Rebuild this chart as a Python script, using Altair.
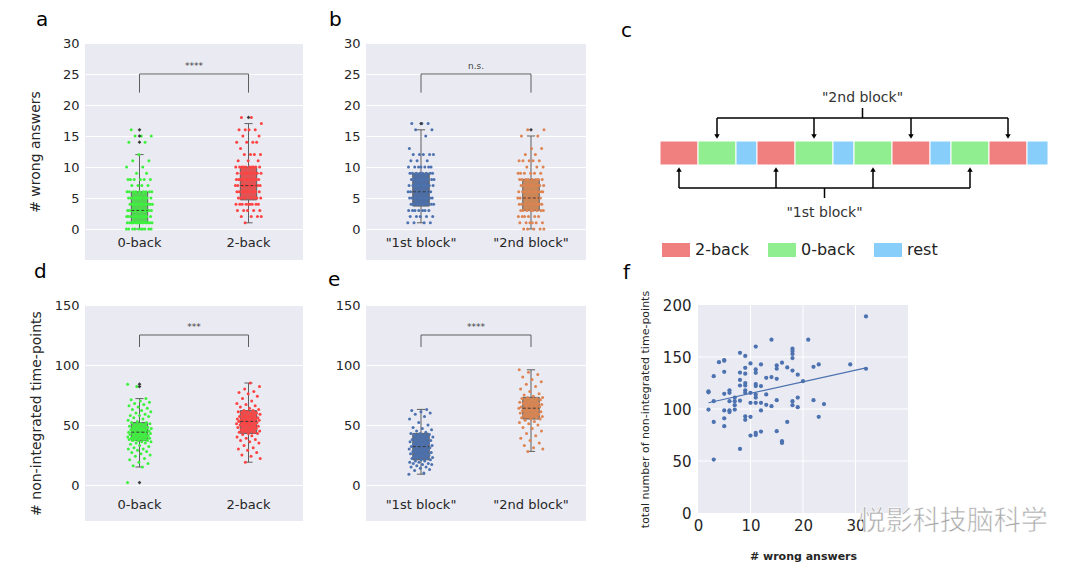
import altair as alt
import pandas as pd

FONT = "DejaVu Sans"
BG = "#EAEAF2"
GRAY = "#5f5f5f"

# ---------------- panel a : # wrong answers by task ----------------
a_cats = ["0-back", "2-back"]
a0_vals = [0, 1, 2, 3, 4, 5, 6, 7, 8, 9, 10, 11, 12, 14, 15, 16]
a0_cnts = [10, 16, 10, 13, 10, 9, 9, 4, 6, 2, 2, 2, 1, 2, 3, 1]
a2_vals = [1, 2, 3, 4, 5, 6, 7, 8, 9, 10, 11, 12, 13, 14, 15, 16, 17, 18]
a2_cnts = [1, 4, 5, 9, 7, 9, 10, 9, 8, 10, 3, 4, 1, 4, 2, 4, 1, 2]
a_q1 = [1, 4.7]
a_med = [3, 7]
a_q3 = [6, 10]
a_lo = [0, 1]
a_hi = [12, 17]
a_out = [[14, 15, 16], [18]]

# ---------------- panel b : # wrong answers by block ----------------
b_cats = ['"1st block"', '"2nd block"']
b1_vals = [1, 2, 3, 4, 5, 6, 7, 8, 9, 10, 11, 12, 13, 15, 16, 17]
b1_cnts = [4, 5, 7, 8, 8, 9, 9, 8, 8, 7, 3, 5, 1, 1, 2, 3]
b2_vals = [0, 1, 2, 3, 4, 5, 6, 7, 8, 9, 10, 11, 12, 13, 15, 16]
b2_cnts = [5, 6, 6, 8, 9, 9, 9, 9, 8, 6, 3, 5, 2, 2, 2, 2]
b_q1 = [3.7, 3]
b_med = [6, 5]
b_q3 = [9, 8]
b_lo = [1, 0]
b_hi = [16, 15]
b_out = [[17], [16]]

# ---------------- panel d : non-integrated time-points by task ----------------
d0_vals = [2, 15, 16, 18, 19, 21, 22, 24, 25, 26, 27, 28, 29, 30, 30, 31, 32, 33, 34, 35,
           35, 36, 36, 37, 37, 37, 38, 38, 38, 39, 39, 39, 40, 40, 40, 41, 41, 41, 42, 42,
           42, 43, 43, 43, 44, 44, 44, 44, 45, 45, 45, 46, 46, 46, 47, 47, 47, 48, 48, 49,
           49, 50, 50, 51, 51, 52, 52, 53, 54, 55, 56, 57, 58, 58, 59, 60, 61, 62, 63, 64,
           65, 66, 67, 68, 69, 70, 71, 72, 82, 84]
d2_vals = [19, 22, 24, 25, 27, 29, 30, 31, 33, 35, 36, 37, 38, 39, 40, 41, 42, 43, 43, 44,
           44, 45, 45, 46, 46, 47, 47, 48, 48, 49, 49, 50, 50, 50, 51, 51, 51, 52, 52, 52,
           53, 53, 53, 54, 54, 54, 55, 55, 55, 56, 56, 56, 57, 57, 58, 58, 59, 59, 60, 60,
           61, 61, 62, 62, 63, 64, 65, 66, 67, 68, 70, 72, 74, 76, 77, 78, 80, 82, 85]
d_q1 = [37, 43]
d_med = [44, 53]
d_q3 = [52, 62]
d_lo = [15, 19]
d_hi = [72, 85]
d_out = [[2, 82, 84], []]

# ---------------- panel e : non-integrated time-points by block ----------------
e1_vals = [9, 10, 12, 13, 14, 15, 15, 16, 17, 17, 18, 18, 19, 19, 20, 20, 21, 21, 22, 22,
           23, 23, 24, 24, 25, 25, 26, 26, 27, 27, 28, 28, 29, 29, 30, 30, 31, 31, 32, 32,
           32, 33, 33, 34, 34, 35, 35, 36, 36, 37, 37, 38, 38, 39, 40, 40, 41, 42, 42, 43,
           43, 44, 45, 46, 47, 48, 50, 52, 55, 57, 59, 60, 61, 62, 63]
e2_vals = [28, 30, 31, 33, 35, 37, 39, 41, 43, 45, 47, 48, 50, 51, 52, 53, 54, 55, 55, 56,
           56, 57, 57, 58, 58, 59, 59, 60, 60, 61, 61, 62, 62, 63, 63, 64, 64, 64, 65, 65,
           65, 66, 66, 67, 67, 68, 68, 69, 69, 70, 70, 71, 71, 72, 72, 73, 73, 74, 75, 76,
           78, 80, 82, 84, 86, 88, 90, 92, 94, 96]
e_q1 = [21, 55]
e_med = [32, 64]
e_q3 = [43, 73]
e_lo = [9, 28]
e_hi = [63, 96]
e_out = [[], []]

# ---------------- panel f : scatter ----------------
f_x = [2, 2, 2, 3, 3, 3, 3, 4, 5, 5, 5, 5, 5, 5, 5, 6, 6, 6, 6, 6, 7, 7, 7, 7,
       8, 8, 8, 8, 8, 8, 9, 9, 9, 9, 9, 9, 9, 9, 9, 10, 10, 10, 10, 10,
       11, 11, 11, 11, 11, 11, 11, 11, 11, 11, 12, 12, 12, 12, 12, 13, 13, 13,
       14, 14, 14, 15, 15, 15, 15, 15, 16, 16, 16, 17, 17, 18, 18, 18, 18, 18, 18, 18,
       19, 19, 19, 20, 21, 22, 22, 23, 23, 24, 29, 32, 32]
f_y = [117, 116, 99.5, 131.6, 107.5, 87.6, 51.4, 145, 147, 146.5, 135.8, 114.6, 98.6, 91, 83.5,
       118, 115.6, 107.5, 98.6, 97, 111, 107.5, 103.7, 99.5,
       154, 135, 128, 122.6, 108, 61.6, 151, 139.6, 134, 125, 122.6, 118, 115.6, 93, 89.6,
       143.8, 115.6, 106, 92.5, 74.5,
       160, 138, 134.8, 124, 122, 114, 111, 106, 77, 75, 142.8, 122, 106, 98.6, 78.3,
       130, 114, 104, 166.6, 130.7, 102.7, 141.9, 138.7, 129, 108.5, 78.7,
       144.5, 69, 67.4, 140, 87.6, 158, 155.7, 153, 149, 137, 107.5, 103.7,
       133, 111, 101.8, 126.8, 166.6, 140.6, 108.5, 142.8, 92.5, 104.7, 142.8, 189, 138.7]
fit_x = [2, 32]
fit_y = [106, 139.6]
f_xticks = [0, 10, 20, 30]
f_yticks = [0, 50, 100, 150, 200]

# ---------------- panel c : block design ----------------
c_cond = ["2-back", "0-back", "rest"]
c_dur = [38, 38, 21]
c_colors = ["#F08080", "#90EE90", "#87CEFA"]
c_seq = ["2-back", "0-back", "rest", "2-back", "0-back", "rest",
         "0-back", "2-back", "rest", "0-back", "2-back", "rest"]


def expand(vals, cnts):
    out = []
    for v, c in zip(vals, cnts):
        out += [v] * c
    return out


def golden(i, g):
    return ((i * 0.6180339887 + g * 0.37) % 1.0) - 0.5


def ptitle(txt, dx, off):
    return alt.TitleParams(txt, anchor="start", frame="group", dx=dx, offset=off, fontSize=20,
                           fontWeight="normal", color="black", font=FONT)


def strip_panel(title, tdx, toff, cats, groups, pt_cols, box_cols, q1, med, q3, lo, hi, outs,
                ydom, yvals, ytitle, tpad, sig_text, sig_lo, sig_hi, lab_y, width, height,
                jit, boxw):
    xs = alt.Scale(domain=[-0.5, 1.5], nice=False, zero=False)
    ys = alt.Scale(domain=ydom, nice=False, zero=False)
    yax = alt.Axis(values=yvals, labelFontSize=13, titleFontSize=14, titleFontWeight="normal",
                   grid=True, gridColor="white", gridWidth=1, ticks=False, domain=False,
                   labelPadding=6, titlePadding=tpad, labelColor="#262626",
                   titleColor="#262626")

    def X(f):
        return alt.X(f, type="quantitative", scale=xs, axis=None)

    def Y(f):
        return alt.Y(f, type="quantitative", scale=ys, axis=yax, title=ytitle)

    pts = []
    for g, vals in enumerate(groups):
        for i, v in enumerate(vals):
            pts.append({"x": g + 2 * jit * golden(i, g), "v": v, "col": pt_cols[g]})
    pts_df = pd.DataFrame(pts)
    box_df = pd.DataFrame({
        "g": [0, 1], "x1": [-boxw, 1 - boxw], "x2": [boxw, 1 + boxw],
        "cx1": [-boxw / 2, 1 - boxw / 2], "cx2": [boxw / 2, 1 + boxw / 2],
        "q1": q1, "med": med, "q3": q3, "lo": lo, "hi": hi, "bcol": box_cols})
    out_df = pd.DataFrame([{"g": g, "v": v} for g, vs in enumerate(outs) for v in vs]
                          or [{"g": 0, "v": None}])
    sig_df = pd.DataFrame({"x": [0, 0, 1, 1], "y": [sig_lo, sig_hi, sig_hi, sig_lo],
                           "o": [0, 1, 2, 3]})
    sigt_df = pd.DataFrame({"x": [0.5], "y": [sig_hi], "t": [sig_text]})
    lab_df = pd.DataFrame({"g": [0, 1], "y": [lab_y, lab_y], "cat": cats})

    box = alt.Chart(box_df).mark_rect(stroke=GRAY, strokeWidth=1).encode(
        x=X("x1"), x2="x2", y=Y("q1"), y2="q3", fill=alt.Fill("bcol:N", scale=None))
    wl = alt.Chart(box_df).mark_rule(color=GRAY).encode(x=X("g"), y=Y("lo"), y2="q1")
    wh = alt.Chart(box_df).mark_rule(color=GRAY).encode(x=X("g"), y=Y("q3"), y2="hi")
    cl = alt.Chart(box_df).mark_rule(color=GRAY).encode(x=X("cx1"), x2="cx2", y=Y("lo"))
    ch = alt.Chart(box_df).mark_rule(color=GRAY).encode(x=X("cx1"), x2="cx2", y=Y("hi"))
    pt = alt.Chart(pts_df).mark_circle(size=9, opacity=1).encode(
        x=X("x"), y=Y("v"), color=alt.Color("col:N", scale=None))
    md = alt.Chart(box_df).mark_rule(color="#3a3a3a", strokeDash=[3, 2]).encode(
        x=X("x1"), x2="x2", y=Y("med"))
    ou = alt.Chart(out_df).mark_point(shape="diamond", filled=True, size=14,
                                      color="#3c3c3c", opacity=1).encode(x=X("g"), y=Y("v"))
    sg = alt.Chart(sig_df).mark_line(color=GRAY, strokeWidth=1).encode(
        x=X("x"), y=Y("y"), order="o:Q")
    st = alt.Chart(sigt_df).mark_text(fontSize=9, color="#444444", baseline="bottom",
                                      dy=-3).encode(x=X("x"), y=Y("y"), text="t:N")
    lb = alt.Chart(lab_df).mark_text(fontSize=13, color="#262626").encode(
        x=X("g"), y=Y("y"), text="cat:N")
    return alt.layer(box, wl, wh, cl, ch, pt, md, ou, sg, st, lb).properties(
        width=width, height=height, title=ptitle(title, tdx, toff),
        view=alt.ViewBackground(fill=BG, stroke=None))


panel_a = strip_panel("a", -49, 7, a_cats, [expand(a0_vals, a0_cnts), expand(a2_vals, a2_cnts)],
                      ["#3df23d", "#ff4343"], ["#52d652", "#e25454"],
                      a_q1, a_med, a_q3, a_lo, a_hi, a_out,
                      [-5, 30], [0, 5, 10, 15, 20, 25, 30], "# wrong answers", 20,
                      "****", 22, 25, -2.3, 218, 217, 0.12, 0.075)
panel_b = strip_panel("b", -37, 7, b_cats, [expand(b1_vals, b1_cnts), expand(b2_vals, b2_cnts)],
                      ["#4c72b0", "#dd8452"], ["#4f6ea3", "#cc8758"],
                      b_q1, b_med, b_q3, b_lo, b_hi, b_out,
                      [-5, 30], [0, 5, 10, 15, 20, 25, 30], "", 10,
                      "n.s.", 22, 25, -2.3, 220, 217, 0.12, 0.075)
panel_d = strip_panel("d", -51, 17, a_cats, [d0_vals, d2_vals],
                      ["#3df23d", "#ff4343"], ["#52d652", "#e25454"],
                      d_q1, d_med, d_q3, d_lo, d_hi, d_out,
                      [-30, 150], [0, 50, 100, 150], "# non-integrated time-points", 11,
                      "***", 115, 125, -17, 218, 216, 0.11, 0.075)
panel_e = strip_panel("e", -38, 9, b_cats, [e1_vals, e2_vals],
                      ["#4c72b0", "#dd8452"], ["#4f6ea3", "#cc8758"],
                      e_q1, e_med, e_q3, e_lo, e_hi, e_out,
                      [-30, 150], [0, 50, 100, 150], "", 10,
                      "****", 115, 125, -17, 220, 216, 0.11, 0.075)

# ---------------- panel c construction ----------------
dur_of = dict(zip(c_cond, c_dur))
starts, t = [], 0
for cond in c_seq:
    starts.append(t)
    t += dur_of[cond]
total = t
blocks_df = pd.DataFrame({"start": starts,
                          "end": [s + dur_of[c] for s, c in zip(starts, c_seq)],
                          "cond": c_seq})
centers = [s + dur_of[c] / 2 for s, c in zip(starts, c_seq)]
first_c = [centers[3 * k] for k in range(len(c_seq) // 3)]
second_c = [centers[3 * k + 1] for k in range(len(c_seq) // 3)]
mid1 = (first_c[0] + first_c[-1]) / 2
mid2 = (second_c[0] + second_c[-1]) / 2

LV = dict(t2=55, s2=65, b2=75, tip2=97, top=98, bot=122, tip1=123, b1=145, s1=155, t1=170)
segs = [(second_c[0], second_c[-1], LV["b2"], LV["b2"]), (mid2, mid2, LV["s2"], LV["b2"]),
        (first_c[0], first_c[-1], LV["b1"], LV["b1"]), (mid1, mid1, LV["b1"], LV["s1"])]
segs += [(c, c, LV["b2"], LV["tip2"] - 5) for c in second_c]
segs += [(c, c, LV["tip1"] + 5, LV["b1"]) for c in first_c]
seg_df = pd.DataFrame(segs, columns=["x", "x2", "y", "y2"])
head_df = pd.DataFrame([{"x": c, "y": LV["tip2"] - 3.5, "s": "triangle-down"} for c in second_c]
                       + [{"x": c, "y": LV["tip1"] + 3.5, "s": "triangle-up"} for c in first_c])
ctext_df = pd.DataFrame({"x": [mid2, mid1], "y": [LV["t2"], LV["t1"]],
                         "t": ['"2nd block"', '"1st block"']})

C_LEFT = 11  # white margin before the first block inside panel c
cxs = alt.Scale(domain=[-C_LEFT, total + 3], nice=False, zero=False)
cys = alt.Scale(domain=[0, 217], reverse=True, nice=False, zero=False)


def CX(f):
    return alt.X(f, type="quantitative", scale=cxs, axis=None)


def CY(f):
    return alt.Y(f, type="quantitative", scale=cys, axis=None)


c_rect = alt.Chart(blocks_df).mark_rect(stroke="white", strokeWidth=1).encode(
    x=CX("start"), x2="end", y=alt.datum(LV["top"], scale=cys, axis=None),
    y2=alt.datum(LV["bot"]),
    color=alt.Color("cond:N", scale=alt.Scale(domain=c_cond, range=c_colors),
                    legend=alt.Legend(orient="none", legendX=13, legendY=193, title=None,
                                      direction="horizontal", columns=3,
                                      symbolType="M-1,-0.5H1V0.5H-1Z", symbolSize=784,
                                      symbolStrokeWidth=0, symbolOpacity=1,
                                      labelFontSize=16, labelFont=FONT, labelColor="#222222",
                                      labelOffset=5, columnPadding=19)))
c_seg = alt.Chart(seg_df).mark_rule(color="black", strokeWidth=1.5).encode(
    x=CX("x"), x2="x2", y=CY("y"), y2="y2")
c_head = alt.Chart(head_df).mark_point(filled=True, color="black", size=30, opacity=1).encode(
    x=CX("x"), y=CY("y"), shape=alt.Shape("s:N", scale=None))
c_text = alt.Chart(ctext_df).mark_text(fontSize=14, color="#333333").encode(
    x=CX("x"), y=CY("y"), text="t:N")
panel_c = alt.layer(c_rect, c_seg, c_head, c_text).properties(
    width=total + 3 + C_LEFT, height=217, title=ptitle("c", -28, 2))

# ---------------- panel f construction ----------------
F_PAD = 9.33  # x units of white space left of the f plot area
fxs = alt.Scale(domain=[-F_PAD, 40], nice=False, zero=False)
fys = alt.Scale(domain=[0, 200], nice=False, zero=False)
fxa = alt.Axis(values=f_xticks, labelFontSize=15, titleFontSize=11, grid=False,
               ticks=False, domain=False, labelPadding=5, titlePadding=17, titleX=154,
               labelColor="#262626", titleColor="#262626", titleFontWeight="bold")
fya = alt.Axis(values=f_yticks, labelFontSize=15, titleFontSize=11, grid=False, offset=-49,
               ticks=False, domain=False, labelPadding=7, titlePadding=12,
               labelColor="#262626", titleColor="#262626", titleFontWeight="normal")


def FX(f):
    return alt.X(f, type="quantitative", scale=fxs, axis=fxa, title="# wrong answers")


def FY(f):
    return alt.Y(f, type="quantitative", scale=fys, axis=fya,
                 title="total number of non-integrated time-points")


f_df = pd.DataFrame({"x": f_x, "y": f_y})
fit_df = pd.DataFrame({"x": fit_x, "y": fit_y})
bg_df = pd.DataFrame({"x": [0], "x2": [40], "y": [0], "y2": [200]})
gx_df = pd.DataFrame({"v": f_xticks[1:]})
gy_df = pd.DataFrame({"v": f_yticks[1:-1]})
wm_df = pd.DataFrame({"x": [30.6], "y": [-9], "t": ["悦影科技脑科学"]})

f_bg = alt.Chart(bg_df).mark_rect(color=BG).encode(x=FX("x"), x2="x2", y=FY("y"), y2="y2")
f_gx = alt.Chart(gx_df).mark_rule(color="white", strokeWidth=1).encode(
    x=FX("v"), y=alt.datum(0), y2=alt.datum(200))
f_gy = alt.Chart(gy_df).mark_rule(color="white", strokeWidth=1).encode(
    y=FY("v"), x=alt.datum(0), x2=alt.datum(40))
f_pts = alt.Chart(f_df).mark_circle(size=18, color="#4c72b0", opacity=1).encode(
    x=FX("x"), y=FY("y"))
f_fit = alt.Chart(fit_df).mark_line(color="#4c72b0", strokeWidth=1.2).encode(
    x=FX("x"), y=FY("y"))
f_wm = alt.Chart(wm_df).mark_text(fontSize=27, font="Noto Sans CJK SC", align="left",
                                  fill="#a9a9a9", stroke="#ffffff", strokeWidth=0.6,
                                  baseline="middle").encode(x=FX("x"), y=FY("y"), text="t:N")
panel_f = alt.layer(f_bg, f_gx, f_gy, f_pts, f_fit, f_wm).properties(
    width=259, height=208, title=ptitle("f", -26, 7))

chart = alt.concat(panel_a, panel_b, panel_c, panel_d, panel_e, panel_f, columns=3,
                   bounds="flush", spacing=alt.RowColnumber(row=45, column=63)).resolve_scale(
    color="independent"
).resolve_legend(
    color="independent"
).properties(
    padding={"left": 20, "top": 2, "right": 5, "bottom": 5}
).configure_view(stroke=None).configure_axis(
    labelFont=FONT, titleFont=FONT
).configure_text(font=FONT).configure_legend(labelFont=FONT)

chart.save("out.html", embed_options={"renderer": "svg", "actions": False})
